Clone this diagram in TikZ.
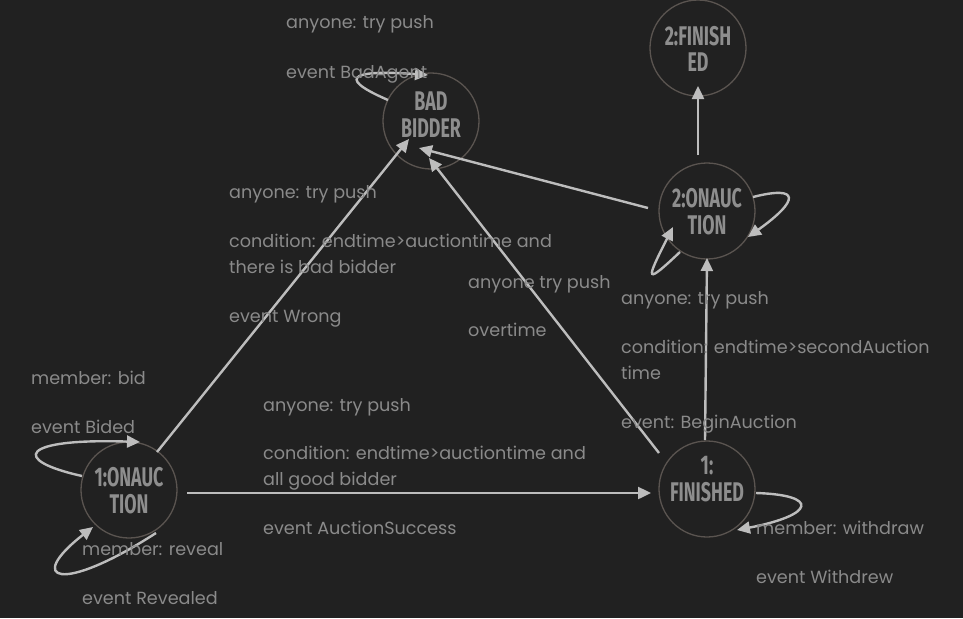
\documentclass[tikz,border=0pt]{standalone}
\usepackage{fontspec}
\setmainfont{Poppins}
\newfontfamily\condfont[FakeStretch=0.66]{Fira Sans}
\usetikzlibrary{arrows.meta,calc}
\definecolor{bgc}{HTML}{212121}
\definecolor{ringc}{HTML}{5A5450}
\definecolor{statec}{HTML}{8E8E8E}
\definecolor{edgec}{HTML}{BDBDBD}
\definecolor{labc}{HTML}{8A8A8A}
\newcommand\stlines[3]{\raisebox{#1}[\height][\depth]{\begin{tabular}{@{}c@{}}#2\\#3\end{tabular}}}
\tikzset{
  state/.style={circle, draw=ringc, line width=1.3pt, minimum size=96pt, inner sep=0pt,
    align=center, text=statec, font=\condfont\bfseries\fontsize{27}{26.5}\selectfont},
  edge/.style={draw=edgec, line width=2.4pt, -{Triangle[length=13pt,width=12pt]}},
  lab/.style={anchor=base west, inner sep=0pt, text=labc, font=\fontsize{17.6}{26}\selectfont}
}
\begin{document}
\begin{tikzpicture}[x=1pt,y=-1pt]
\fill[bgc] (0,0) rectangle (963,618);
\useasboundingbox (0,0) rectangle (963,618);
% states
\node[state] (bb) at (431,121) {\stlines{2.5pt}{BAD}{BIDDER}};
\node[state] (fin2) at (698,48) {\stlines{-5pt}{2:FINISH}{ED}};
\node[state] (on2) at (707,211) {\stlines{-4.5pt}{2:ONAUC}{TION}};
\node[state] (fin1) at (707,489) {\stlines{6.5pt}{1:}{FINISHED}};
\node[state] (on1) at (129,490) {\stlines{-4.5pt}{1:ONAUC}{TION}};
% straight transitions
\draw[edge] ($(on1)+(28,-38)$) -- ($(bb)+(-22,18)$);
\draw[edge] ($(on1)+(58,3)$) -- ($(fin1)+(-56,4)$);
\draw[edge] ($(fin1)+(-48,-36)$) -- ($(bb)+(-2,37)$);
\draw[edge] ($(on2)+(-59,-3)$) -- ($(bb)+(-12,27)$);
\draw[edge] ($(fin1)+(-2,-49)$) -- ($(on2)+(0,47)$);
\draw[edge] ($(on2)+(-9,-56)$) -- ($(fin2)+(0,38)$);
% self loops
\draw[edge] ($(bb)+(-43,-21)$) .. controls ($(bb)+(-101,-46)$) and ($(bb)+(-71,-51)$) .. ($(bb)+(-3,-46)$);
\draw[edge] ($(on2)+(46,-14)$) .. controls ($(on2)+(93,-26)$) and ($(on2)+(93,-11)$) .. ($(on2)+(41,26)$);
\draw[edge] ($(on2)+(-27,41)$) .. controls ($(on2)+(-62,74)$) and ($(on2)+(-62,71)$) .. ($(on2)+(-34,16)$);
\draw[edge] ($(on1)+(-47,-14)$) .. controls ($(on1)+(-119,-30)$) and ($(on1)+(-109,-52)$) .. ($(on1)+(11,-48)$);
\draw[edge] ($(on1)+(27,43)$) .. controls ($(on1)+(-69,105)$) and ($(on1)+(-104,90)$) .. ($(on1)+(-36,37)$);
\draw[edge] ($(fin1)+(49,4)$) .. controls ($(fin1)+(113,6)$) and ($(fin1)+(108,26)$) .. ($(fin1)+(30,41)$);
% labels
\node[lab] (l1) at (286,29) {anyone: try push};
\node[lab] (l2) at (286,78) {event BadAgent};
\node[lab] (l3) at (229,198) {anyone: try push};
\node[lab] (l4) at (229,247) {condition: endtime>auctiontime and};
\node[lab] (l5) at (229,273) {there is bad bidder};
\node[lab] (l6) at (229,322) {event Wrong};
\node[lab] (l7) at (468,288) {anyone try push};
\node[lab] (l8) at (468,336) {overtime};
\node[lab] (l9) at (621,304) {anyone: try push};
\node[lab] (l10) at (621,353) {condition: endtime>secondAuction};
\node[lab] (l11) at (621,379) {time};
\node[lab] (l12) at (621,428) {event: BeginAuction};
\node[lab] (l13) at (31,384) {member: bid};
\node[lab] (l14) at (31,433) {event Bided};
\node[lab] (l15) at (263,411) {anyone: try push};
\node[lab] (l16) at (263,459) {condition: endtime>auctiontime and};
\node[lab] (l17) at (263,485) {all good bidder};
\node[lab] (l18) at (263,534) {event AuctionSuccess};
\node[lab] (l19) at (82,555) {member: reveal};
\node[lab] (l20) at (82,604) {event Revealed};
\node[lab] (l21) at (756,534) {member: withdraw};
\node[lab] (l22) at (756,583) {event Withdrew};
\end{tikzpicture}
\end{document}
